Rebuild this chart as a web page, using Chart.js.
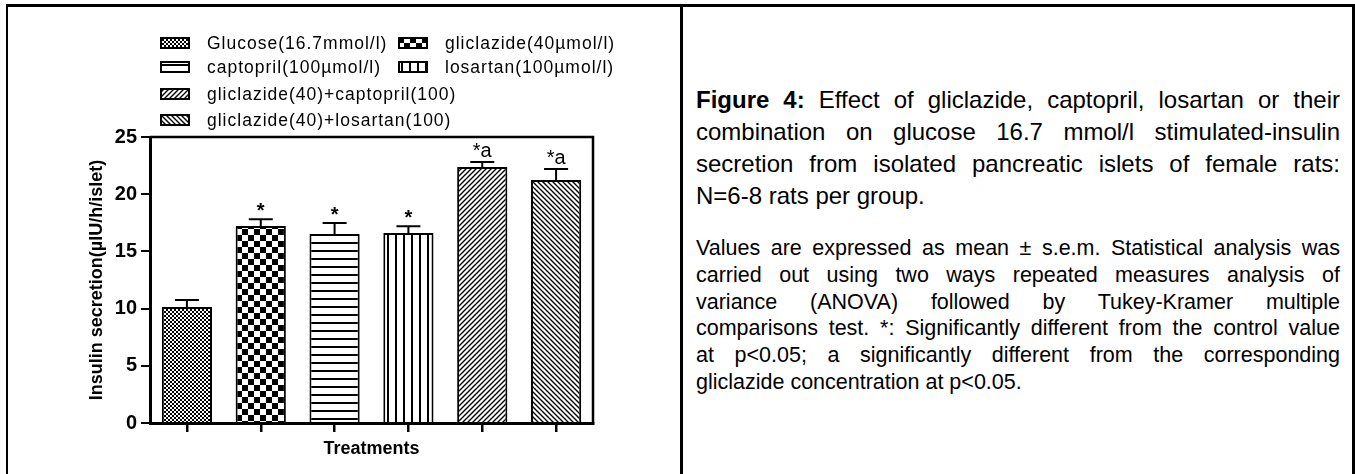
<!DOCTYPE html>
<html>
<head>
<meta charset="utf-8">
<script src="https://cdn.jsdelivr.net/npm/chart.js@4.4.0/dist/chart.umd.min.js"></script>
<style>
html,body{margin:0;padding:0;background:#fff;}
body{width:1355px;height:474px;position:relative;overflow:hidden;font-family:"Liberation Sans",Arial,sans-serif;color:#000;}
.rule{position:absolute;background:#000;}
#chartBox{position:absolute;left:8px;top:7px;width:672px;height:467px;}
.leg{position:absolute;height:20px;display:flex;align-items:center;font-size:17.5px;letter-spacing:1px;white-space:nowrap;}
.leg canvas{display:block;margin-right:17px;}
.cap{position:absolute;left:696px;width:644px;font-family:"Liberation Sans",Arial,sans-serif;}
.cap div{text-align:justify;text-align-last:justify;white-space:nowrap;}
.cap div.last{text-align-last:left;}
#p1{top:84px;font-size:24px;line-height:32px;}
#p2{top:235px;font-size:21.5px;line-height:26.8px;}
</style>
</head>
<body>
<div class="rule" style="left:6px;top:4px;width:1349px;height:3px;"></div>
<div class="rule" style="left:6px;top:4px;width:2px;height:470px;"></div>
<div class="rule" style="left:680px;top:4px;width:3px;height:470px;"></div>
<div class="rule" style="left:1352px;top:4px;width:3px;height:470px;"></div>

<div id="chartBox"><canvas id="c" width="672" height="467"></canvas></div>
<div id="legend"></div>

<div class="cap" id="p1">
<div><b>Figure 4:</b> Effect of gliclazide, captopril, losartan or their</div>
<div>combination on glucose 16.7 mmol/l stimulated-insulin</div>
<div>secretion from isolated pancreatic islets of female rats:</div>
<div class="last">N=6-8 rats per group.</div>
</div>
<div class="cap" id="p2">
<div>Values are expressed as mean ± s.e.m. Statistical analysis was</div>
<div>carried out using two ways repeated measures analysis of</div>
<div>variance (ANOVA) followed by Tukey-Kramer multiple</div>
<div>comparisons test. *: Significantly different from the control value</div>
<div>at p&lt;0.05; a significantly different from the corresponding</div>
<div class="last">gliclazide concentration at p&lt;0.05.</div>
</div>

<script>
// ---- data ----
const categories = ['Glucose(16.7mmol/l)', 'gliclazide(40µmol/l)', 'captopril(100µmol/l)', 'losartan(100µmol/l)', 'gliclazide(40)+captopril(100)', 'gliclazide(40)+losartan(100)'];
const means = [10.15, 17.22, 16.52, 16.6, 22.38, 21.24];
const sems = [0.6, 0.6, 0.96, 0.6, 0.44, 0.96];
const marks = ['', '*', '*', '*', '*a', '*a'];
const yMin = 0, yMax = 25, yStep = 5;
const yTitle = 'Insulin secretion(µIU/h/islet)';
const xTitle = 'Treatments';

// ---- styles ----
const patternKinds = ['fineCheck', 'bigCheck', 'hlines', 'vlines', 'diagUp', 'diagDown'];

function makeTile(kind) {
  const c = document.createElement('canvas');
  let s = 8;
  if (kind === 'fineCheck') s = 4;
  if (kind === 'bigCheck') s = 12;
  if (kind === 'diagUp' || kind === 'diagDown') s = 5;
  c.width = c.height = s;
  const g = c.getContext('2d');
  g.fillStyle = '#fff'; g.fillRect(0, 0, s, s);
  g.fillStyle = '#000'; g.strokeStyle = '#000';
  if (kind === 'fineCheck') { g.fillRect(0, 0, 2, 2); g.fillRect(2, 2, 2, 2); }
  else if (kind === 'bigCheck') { g.fillRect(0, 0, 6, 6); g.fillRect(6, 6, 6, 6); }
  else if (kind === 'hlines') { g.fillRect(0, 3, s, 2); }
  else if (kind === 'vlines') { g.fillRect(3, 0, 2, s); }
  else if (kind === 'diagUp') {
    g.lineWidth = 1.4; g.beginPath();
    g.moveTo(-1, s + 1); g.lineTo(s + 1, -1);
    g.moveTo(-1, 1); g.lineTo(1, -1);
    g.moveTo(s - 1, s + 1); g.lineTo(s + 1, s - 1);
    g.stroke();
  } else if (kind === 'diagDown') {
    g.lineWidth = 1.4; g.beginPath();
    g.moveTo(-1, -1); g.lineTo(s + 1, s + 1);
    g.moveTo(-1, s - 1); g.lineTo(1, s + 1);
    g.moveTo(s - 1, -1); g.lineTo(s + 1, 1);
    g.stroke();
  }
  return c;
}
const mainCtx = document.getElementById('c').getContext('2d');
const patterns = patternKinds.map(k => mainCtx.createPattern(makeTile(k), 'repeat'));

// ---- legend (HTML) ----
const legendCols = [160, 398];
const legendRows = [43, 67, 94, 120];
const legendSlots = [[0, 0], [1, 0], [0, 1], [1, 1], [0, 2], [0, 3]];
const legendEl = document.getElementById('legend');
categories.forEach((name, i) => {
  const [col, row] = legendSlots[i];
  const item = document.createElement('div');
  item.className = 'leg';
  item.style.left = legendCols[col] + 'px';
  item.style.top = (legendRows[row] - 10) + 'px';
  const sw = document.createElement('canvas');
  sw.width = 30; sw.height = 12;
  const g = sw.getContext('2d');
  g.fillStyle = g.createPattern(makeTile(patternKinds[i]), 'repeat');
  g.fillRect(0, 0, 30, 12);
  g.strokeStyle = '#000'; g.lineWidth = 2;
  g.strokeRect(1, 1, 28, 10);
  item.appendChild(sw);
  const t = document.createElement('span');
  t.textContent = name;
  item.appendChild(t);
  legendEl.appendChild(item);
});

// ---- plugin: error bars, significance marks, frame ----
const extras = {
  id: 'extras',
  afterDatasetsDraw(chart) {
    const { ctx, scales: { y }, chartArea } = chart;
    const meta = chart.getDatasetMeta(0);
    ctx.save();
    ctx.strokeStyle = '#000';
    ctx.fillStyle = '#000';
    meta.data.forEach((bar, i) => {
      const x = bar.x;
      const yTop = y.getPixelForValue(means[i]);
      const yErr = y.getPixelForValue(means[i] + sems[i]);
      ctx.lineWidth = 2;
      ctx.beginPath();
      ctx.moveTo(x, yTop); ctx.lineTo(x, yErr);
      ctx.moveTo(x - 12, yErr); ctx.lineTo(x + 12, yErr);
      ctx.stroke();
      if (marks[i]) {
        ctx.textAlign = 'center';
        ctx.textBaseline = 'alphabetic';
        if (marks[i] === '*') {
          ctx.font = 'bold 20px "Liberation Sans", Arial, sans-serif';
          ctx.fillText(marks[i], x, yErr - 2);
        } else {
          ctx.font = '20px "Liberation Sans", Arial, sans-serif';
          ctx.fillText(marks[i], x, yErr - 5);
        }
      }
    });
    ctx.lineWidth = 2.5;
    ctx.beginPath();
    ctx.moveTo(chartArea.left, chartArea.top);
    ctx.lineTo(chartArea.right, chartArea.top);
    ctx.lineTo(chartArea.right, chartArea.bottom);
    ctx.stroke();
    ctx.restore();
  }
};

new Chart(document.getElementById('c'), {
  type: 'bar',
  data: {
    labels: categories,
    datasets: [{
      data: means,
      backgroundColor: patterns,
      borderColor: '#000',
      borderWidth: 2,
      barPercentage: 0.68,
      categoryPercentage: 1
    }]
  },
  options: {
    responsive: false,
    animation: false,
    devicePixelRatio: 1,
    layout: { padding: { left: 78, top: 130, right: 87, bottom: 0 } },
    plugins: { legend: { display: false }, tooltip: { enabled: false } },
    scales: {
      x: {
        offset: true,
        ticks: { display: false },
        grid: { display: true, offset: false, drawOnChartArea: false, drawTicks: true, tickLength: 9, color: '#000', lineWidth: 2.5 },
        border: { display: true, color: '#000', width: 3 },
        title: { display: true, text: xTitle, color: '#000', font: { family: '"Liberation Sans", Arial, sans-serif', size: 18, weight: 'bold' }, padding: { top: 0, bottom: 14 } },
        afterFit(scale) { scale.height = 51; }
      },
      y: {
        min: yMin, max: yMax,
        ticks: { stepSize: yStep, color: '#000', padding: 4, font: { family: '"Liberation Sans", Arial, sans-serif', size: 20, weight: 'bold' } },
        grid: { display: true, drawOnChartArea: false, drawTicks: true, tickLength: 9, color: '#000', lineWidth: 2 },
        border: { display: true, color: '#000', width: 3 },
        title: { display: true, text: yTitle, color: '#000', font: { family: '"Liberation Sans", Arial, sans-serif', size: 18, weight: 'bold' }, padding: { top: 0, bottom: 0 } },
        afterFit(scale) { scale.width = 64; }
      }
    }
  },
  plugins: [extras]
});
</script>
</body>
</html>
